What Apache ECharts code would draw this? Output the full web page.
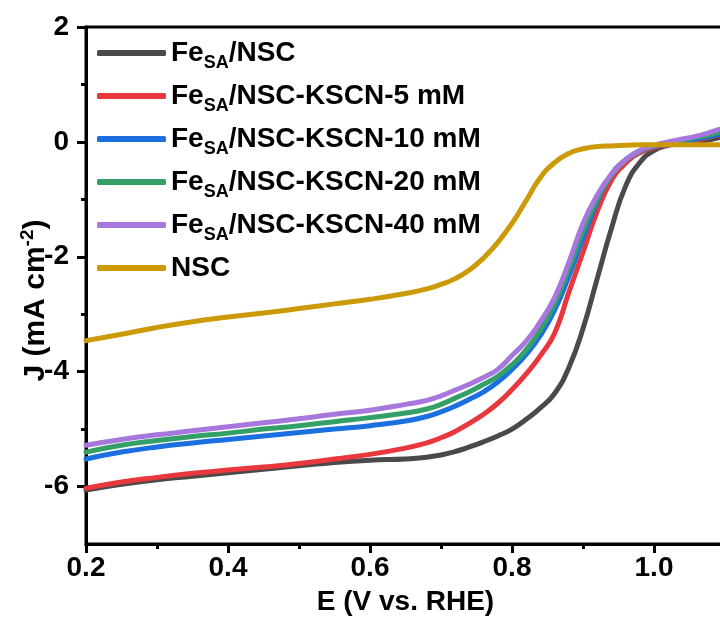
<!DOCTYPE html>
<html>
<head>
<meta charset="utf-8">
<title>LSV polarization curves</title>
<script src="https://cdn.jsdelivr.net/npm/echarts@6/dist/echarts.min.js"></script>
<style>
  html, body { margin: 0; padding: 0; background: #fff; }
  #chart { width: 720px; height: 617px; }
</style>
</head>
<body>
<div id="chart"></div>
<script>
// Potential (V vs. RHE)
const potential = [0.20, 0.25, 0.30, 0.35, 0.40, 0.45, 0.50, 0.55, 0.60, 0.65, 0.68, 0.70,
  0.72, 0.74, 0.76, 0.78, 0.80, 0.82, 0.84, 0.86, 0.88, 0.90, 0.92, 0.94, 0.96, 0.98,
  1.00, 1.02, 1.04, 1.06, 1.08, 1.10];

// Current density (mA cm-2) for each catalyst
const fesaNsc = [-6.06, -5.96, -5.88, -5.82, -5.76, -5.70, -5.64, -5.58, -5.54, -5.52, -5.49, -5.45,
  -5.39, -5.31, -5.22, -5.12, -5.00, -4.83, -4.63, -4.38, -3.93, -3.25, -2.38, -1.51, -0.77, -0.36,
  -0.15, -0.06, -0.02, 0.00, 0.04, 0.10];
const kscn5 = [-6.03, -5.92, -5.84, -5.77, -5.71, -5.66, -5.60, -5.52, -5.44, -5.33, -5.24, -5.15,
  -5.04, -4.90, -4.74, -4.55, -4.31, -4.04, -3.72, -3.33, -2.62, -1.92, -1.21, -0.67, -0.37, -0.19,
  -0.10, -0.05, -0.02, 0.03, 0.09, 0.17];
const kscn10 = [-5.52, -5.40, -5.31, -5.24, -5.18, -5.12, -5.06, -5.00, -4.94, -4.86, -4.78, -4.70,
  -4.60, -4.48, -4.35, -4.18, -3.96, -3.70, -3.37, -2.93, -2.34, -1.67, -1.04, -0.57, -0.31, -0.16,
  -0.08, -0.04, 0.00, 0.05, 0.10, 0.17];
const kscn20 = [-5.40, -5.28, -5.20, -5.13, -5.07, -5.00, -4.94, -4.87, -4.80, -4.72, -4.65, -4.57,
  -4.46, -4.35, -4.22, -4.08, -3.88, -3.62, -3.27, -2.82, -2.22, -1.55, -1.00, -0.58, -0.32, -0.16,
  -0.07, -0.02, 0.03, 0.08, 0.13, 0.20];
const kscn40 = [-5.28, -5.18, -5.10, -5.03, -4.96, -4.89, -4.82, -4.74, -4.67, -4.57, -4.50, -4.42,
  -4.32, -4.22, -4.10, -3.96, -3.72, -3.47, -3.13, -2.71, -2.10, -1.42, -0.93, -0.56, -0.31, -0.15,
  -0.06, 0.00, 0.05, 0.10, 0.17, 0.25];
const nsc = [-3.46, -3.35, -3.23, -3.13, -3.05, -2.98, -2.90, -2.82, -2.74, -2.64, -2.56, -2.48,
  -2.38, -2.23, -2.02, -1.75, -1.42, -1.02, -0.62, -0.36, -0.20, -0.12, -0.08, -0.07, -0.06, -0.05,
  -0.05, -0.05, -0.05, -0.05, -0.05, -0.05];

const seriesNames = ['Fe_SA/NSC', 'Fe_SA/NSC-KSCN-5 mM', 'Fe_SA/NSC-KSCN-10 mM',
  'Fe_SA/NSC-KSCN-20 mM', 'Fe_SA/NSC-KSCN-40 mM', 'NSC'];
const seriesColors = ['#4a4a4a', '#e8373d', '#1c6fdf', '#33a068', '#a877dd', '#cc9a06'];
const seriesValues = [fesaNsc, kscn5, kscn10, kscn20, kscn40, nsc];

// Axis tick positions
const yLabelValues = [-6, -4, -2, 0, 2];
const yMinorValues = [-5, -3, -1, 1];

const FONT = "'Liberation Sans', Arial, Helvetica, sans-serif";

const chart = echarts.init(document.getElementById('chart'), null, { renderer: 'canvas' });

// "Fe_SA/..." -> Fe with subscript SA
function legendLabel(name) {
  const parts = name.split('_SA');
  if (parts.length === 1) return '{n|' + name + '}';
  return '{n|' + parts[0] + '}{s|SA}{n|' + parts[1] + '}';
}

const option = {
  backgroundColor: '#ffffff',
  animation: false,
  grid: {
    left: 86, right: -5, top: 27, bottom: 73,
    containLabel: false,
    outerBoundsMode: 'none',
    show: true, borderColor: '#000', borderWidth: 3, backgroundColor: 'transparent'
  },
  legend: {
    orient: 'vertical',
    left: 92, top: 34,
    itemWidth: 69, itemHeight: 6,
    itemGap: 10,
    icon: 'roundRect',
    data: seriesNames,
    formatter: legendLabel,
    textStyle: {
      fontFamily: FONT, fontWeight: 'bold', fontSize: 28, color: '#000',
      rich: {
        n: { fontFamily: FONT, fontWeight: 'bold', fontSize: 28, color: '#000', lineHeight: 38, verticalAlign: 'middle' },
        s: { fontFamily: FONT, fontWeight: 'bold', fontSize: 18, color: '#000', lineHeight: 18, verticalAlign: 'bottom' }
      }
    }
  },
  xAxis: {
    type: 'value',
    min: 0.2, max: 1.1, interval: 0.2,
    name: 'E (V vs. RHE)',
    nameLocation: 'middle',
    nameGap: 44,
    nameMoveOverlap: false,
    nameTextStyle: { fontFamily: FONT, fontWeight: 'bold', fontSize: 28, color: '#000' },
    axisLine: { show: true, onZero: false, lineStyle: { color: '#000', width: 3 } },
    axisTick: { show: true, inside: false, length: 9, lineStyle: { color: '#000', width: 3 } },
    minorTick: { show: true, splitNumber: 2, length: 5, lineStyle: { color: '#000', width: 3 } },
    splitLine: { show: false },
    axisLabel: {
      margin: 10,
      showMaxLabel: false,
      fontFamily: FONT, fontWeight: 'bold', fontSize: 28, color: '#000',
      formatter: v => v.toFixed(1)
    }
  },
  yAxis: [
    {
      type: 'value',
      min: -7, max: 2,
      name: '{n|J (mA cm}{sup|-2}{n|)}',
      nameLocation: 'middle',
      nameRotate: 90,
      nameGap: 32,
      nameMoveOverlap: false,
      nameTextStyle: {
        fontFamily: FONT, fontWeight: 'bold', fontSize: 30, color: '#000',
        padding: [0, 30, 0, 0],
        rich: {
          n: { fontFamily: FONT, fontWeight: 'bold', fontSize: 30, color: '#000', lineHeight: 36, verticalAlign: 'middle' },
          sup: { fontFamily: FONT, fontWeight: 'bold', fontSize: 19, color: '#000', lineHeight: 19, verticalAlign: 'top' }
        }
      },
      axisLine: { show: true, onZero: false, lineStyle: { color: '#000', width: 3 } },
      axisTick: { show: true, inside: false, length: 9, customValues: yLabelValues, lineStyle: { color: '#000', width: 3 } },
      splitLine: { show: false },
      axisLabel: {
        margin: 17,
        customValues: yLabelValues,
        fontFamily: FONT, fontWeight: 'bold', fontSize: 28, color: '#000'
      }
    },
    {
      type: 'value',
      min: -7, max: 2,
      position: 'left',
      axisLine: { show: false, onZero: false },
      axisTick: { show: true, inside: false, length: 5, customValues: yMinorValues, lineStyle: { color: '#000', width: 3 } },
      axisLabel: { show: false },
      splitLine: { show: false }
    }
  ],
  series: seriesNames.map((name, i) => ({
    name: name,
    type: 'line',
    yAxisIndex: 0,
    smooth: 0.5,
    showSymbol: false,
    symbol: 'none',
    clip: true,
    color: seriesColors[i],
    lineStyle: { color: seriesColors[i], width: 5, cap: 'round', join: 'round' },
    data: potential.map((e, k) => [e, seriesValues[i][k]]),
    z: 2 + i
  }))
};

chart.setOption(option);
</script>
</body>
</html>
